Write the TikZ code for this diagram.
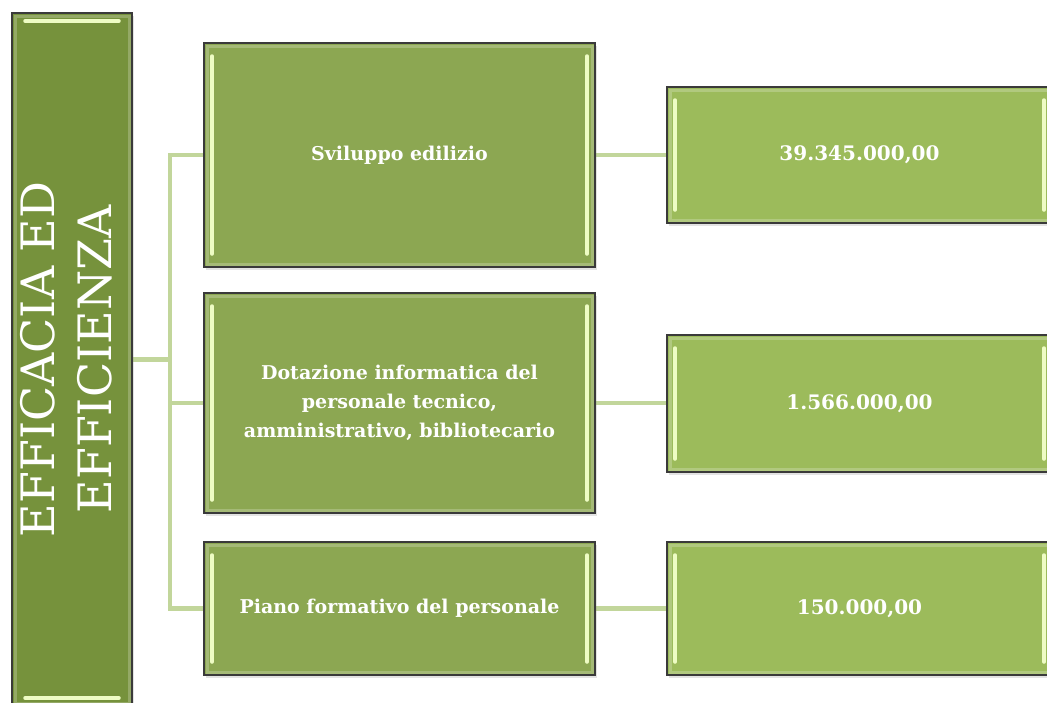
\documentclass[tikz,border=0pt]{standalone}
\usepackage{fontspec}
\setmainfont{DejaVu Serif}
\usepackage{graphicx}
\usetikzlibrary{shadows, backgrounds}
\definecolor{darkolive}{RGB}{118, 146, 60}
\definecolor{midolive}{RGB}{140, 167, 82}
\definecolor{lightolive}{RGB}{156, 187, 91}
\definecolor{linkgreen}{RGB}{194, 214, 155}
\definecolor{shine}{RGB}{238, 252, 196}
\definecolor{edgegray}{RGB}{58, 58, 58}

\tikzset{
  card/.style={draw=edgegray, line width=1.3pt, text=white, align=center, inner sep=0pt,
    drop shadow={shadow xshift=1.5pt, shadow yshift=-2.5pt, opacity=0.22}},
  bevelh/.style={path picture={
      \draw[white, opacity=0.22, line width=3pt]
        ([xshift=3pt,yshift=-3pt]path picture bounding box.north west) rectangle
        ([xshift=-3pt,yshift=3pt]path picture bounding box.south east);
      \draw[shine, line width=3.5pt, line cap=round]
        ([xshift=8pt,yshift=-13pt]path picture bounding box.north west) --
        ([xshift=8pt,yshift=13pt]path picture bounding box.south west);
      \draw[shine, line width=3.5pt, line cap=round]
        ([xshift=-8pt,yshift=-13pt]path picture bounding box.north east) --
        ([xshift=-8pt,yshift=13pt]path picture bounding box.south east);}},
  bevelv/.style={path picture={
      \draw[white, opacity=0.22, line width=3pt]
        ([xshift=3pt,yshift=-3pt]path picture bounding box.north west) rectangle
        ([xshift=-3pt,yshift=3pt]path picture bounding box.south east);
      \draw[shine, line width=3.5pt, line cap=round]
        ([xshift=13pt,yshift=-8pt]path picture bounding box.north west) --
        ([xshift=-13pt,yshift=-8pt]path picture bounding box.north east);
      \draw[shine, line width=3.5pt, line cap=round]
        ([xshift=13pt,yshift=8pt]path picture bounding box.south west) --
        ([xshift=-13pt,yshift=8pt]path picture bounding box.south east);}},
  areabox/.style={card, bevelv, fill=darkolive, minimum width=120, minimum height=693,
    font=\fontsize{46}{57}\selectfont},
  actionbox/.style={card, bevelh, fill=midolive, minimum width=391,
    font=\fontsize{19}{29}\selectfont\bfseries},
  amountbox/.style={card, bevelh, fill=lightolive, minimum width=385,
    font=\fontsize{20}{24}\selectfont\bfseries},
  link/.style={draw=linkgreen, line width=4.5pt}
}

\begin{document}
\begin{tikzpicture}[x=1pt, y=-1pt]
  \useasboundingbox (0,0) rectangle (1047,702);

  % area on the left
  \node[areabox] (area) at (72,359.5)
    {\rotatebox{90}{\begin{tabular}{@{}c@{}}EFFICACIA ED\\EFFICIENZA\end{tabular}}};

  % actions
  \node[actionbox, minimum height=224] (act1) at (399.5,155) {Sviluppo edilizio};
  \node[actionbox, minimum height=220] (act2) at (399.5,403)
    {Dotazione informatica del\\personale tecnico,\\amministrativo, bibliotecario};
  \node[actionbox, minimum height=133] (act3) at (399.5,608.5) {Piano formativo del personale};

  % amounts
  \node[amountbox, minimum height=136] (amt1) at (859.5,155) {39.345.000,00};
  \node[amountbox, minimum height=137] (amt2) at (859.5,403.5) {1.566.000,00};
  \node[amountbox, minimum height=133] (amt3) at (859.5,608.5) {150.000,00};

  % connectors
  \coordinate (trunk) at (170,0);
  \begin{scope}[on background layer]
    \draw[link] (area.east) -- (trunk |- area.east);
    \draw[link] (act1.west) -- (trunk |- act1.west) -- (trunk |- act3.west) -- (act3.west);
    \draw[link] (trunk |- act2.west) -- (act2.west);
    \draw[link] (act1.east) -- (amt1.west);
    \draw[link] (act2.east) -- (act2.east -| amt2.west);
    \draw[link] (act3.east) -- (amt3.west);
  \end{scope}
\end{tikzpicture}
\end{document}
